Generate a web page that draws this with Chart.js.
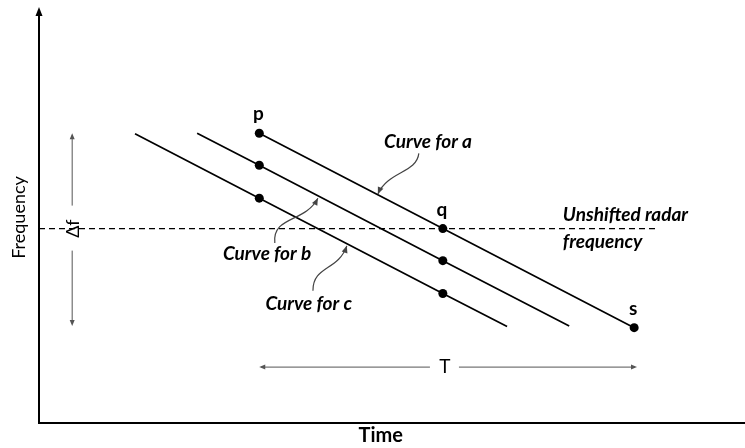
<!DOCTYPE html>
<html>
<head>
<meta charset="utf-8">
<script src="https://cdn.jsdelivr.net/npm/chart.js@4/dist/chart.umd.min.js"></script>
<style>
  body { margin: 0; background: #fff; }
  #wrap { width: 745px; height: 448px; }
</style>
</head>
<body>
<div id="wrap"><canvas id="chart" width="745" height="448"></canvas></div>
<script>
// Time / frequency values (arbitrary 0-100 units)
const timeA = [31.2, 57.2, 84.3];
const freqA = [70.5, 47.3, 23.2];
const timeB = [22.4, 31.2, 57.2, 75.1];
const freqB = [70.5, 62.7, 39.5, 23.6];
const timeC = [13.6, 31.2, 57.2, 66.3];
const freqC = [70.4, 54.7, 31.5, 23.5];
const dotsB = [false, true, true, false];
const dotsC = [false, true, true, false];
const pointNames = ["p", "q", "s"];
const radarFreq = 47.3;
const radarTime = [0, 87.7];

const toPoints = (xs, ys) => xs.map((x, i) => ({ x: x, y: ys[i] }));

// Label text, and the connectors from each label to its curve (data units)
const curveNotes = [
    { text: "Curve for a", at: [55.1, 68.3], path: [[53.8, 65.6], [53.5, 60.8], [49.4, 61.3], [48.0, 55.7]] },
    { text: "Curve for b", at: [32.3, 41.2], path: [[33.4, 43.8], [33.0, 50.4], [37.7, 48.7], [39.5, 54.7]] },
    { text: "Curve for c", at: [38.2, 29.1], path: [[38.8, 32.2], [38.8, 38.3], [42.4, 37.0], [43.6, 43.1]] }
];

const FONT = "Lato, 'Open Sans', sans-serif";

const arrowHead = (ctx, x, y, angle, len, half) => {
    ctx.save();
    ctx.translate(x, y);
    ctx.rotate(angle);
    ctx.beginPath();
    ctx.moveTo(0, 0);
    ctx.lineTo(-len, -half);
    ctx.lineTo(-len, half);
    ctx.closePath();
    ctx.fill();
    ctx.restore();
};

const annotations = {
    id: "annotations",
    afterDraw(chart) {
        const ctx = chart.ctx;
        const xs = chart.scales.x;
        const ys = chart.scales.y;
        const X = (v) => xs.getPixelForValue(v);
        const Y = (v) => ys.getPixelForValue(v);
        const area = chart.chartArea;

        ctx.save();
        ctx.fillStyle = "#000";
        ctx.strokeStyle = "#000";

        // arrow on top of frequency axis
        arrowHead(ctx, area.left, area.top - 5, -Math.PI / 2, 9, 3.5);

        // point names p, q, s
        ctx.font = "bold 19px " + FONT;
        ctx.textAlign = "center";
        ctx.textBaseline = "alphabetic";
        pointNames.forEach((name, i) => {
            ctx.fillText(name, X(timeA[i]) - 1, Y(freqA[i]) - 13);
        });

        // curve labels and wavy connectors
        ctx.font = "italic bold 19px " + FONT;
        ctx.textBaseline = "middle";
        curveNotes.forEach((n) => {
            ctx.fillText(n.text, X(n.at[0]), Y(n.at[1]));
            const p = n.path.map((q) => [X(q[0]), Y(q[1])]);
            ctx.strokeStyle = "#444";
            ctx.fillStyle = "#444";
            ctx.lineWidth = 1.2;
            ctx.beginPath();
            ctx.moveTo(p[0][0], p[0][1]);
            ctx.bezierCurveTo(p[1][0], p[1][1], p[2][0], p[2][1], p[3][0], p[3][1]);
            ctx.stroke();
            const ang = Math.atan2(p[3][1] - p[2][1], p[3][0] - p[2][0]);
            arrowHead(ctx, p[3][0], p[3][1], ang, 7, 3);
            ctx.fillStyle = "#000";
        });

        // unshifted radar frequency note
        ctx.textAlign = "left";
        ctx.textBaseline = "alphabetic";
        ctx.fillText("Unshifted radar", X(74.2), Y(49.2));
        ctx.fillText("frequency", X(74.2), Y(42.6));

        // delta f span
        ctx.strokeStyle = "#555";
        ctx.fillStyle = "#555";
        ctx.lineWidth = 1;
        const dfX = X(4.7);
        const dfTop = Y(freqA[0]);
        const dfBot = Y(freqB[3]);
        const dfMid = Y(radarFreq);
        ctx.beginPath();
        ctx.moveTo(dfX, dfTop + 2);
        ctx.lineTo(dfX, dfMid - 23);
        ctx.moveTo(dfX, dfMid + 22);
        ctx.lineTo(dfX, dfBot - 2);
        ctx.stroke();
        arrowHead(ctx, dfX, dfTop, -Math.PI / 2, 6, 2.5);
        arrowHead(ctx, dfX, dfBot, Math.PI / 2, 6, 2.5);
        ctx.save();
        ctx.translate(dfX + 1, dfMid);
        ctx.rotate(-Math.PI / 2);
        ctx.fillStyle = "#000";
        ctx.font = "18px " + FONT;
        ctx.textAlign = "center";
        ctx.textBaseline = "middle";
        ctx.fillText("\u0394f", 0, 0);
        ctx.restore();

        // T span
        const tY = Y(13.6);
        const tL = X(timeA[0]);
        const tR = X(84.7);
        const tMid = X(57.5);
        ctx.beginPath();
        ctx.moveTo(tL + 2, tY);
        ctx.lineTo(tMid - 15, tY);
        ctx.moveTo(tMid + 14, tY);
        ctx.lineTo(tR - 2, tY);
        ctx.stroke();
        arrowHead(ctx, tL, tY, Math.PI, 6, 2.5);
        arrowHead(ctx, tR, tY, 0, 6, 2.5);
        ctx.fillStyle = "#000";
        ctx.font = "19px " + FONT;
        ctx.textAlign = "center";
        ctx.textBaseline = "middle";
        ctx.fillText("T", tMid, tY);

        // time axis name
        ctx.font = "bold 20px " + FONT;
        ctx.fillText("Time", X(48.4), area.bottom + 13);

        ctx.restore();
    }
};

const lineStyle = {
    showLine: true,
    borderColor: "#000",
    backgroundColor: "#000",
    borderWidth: 1.7,
    pointBorderWidth: 0,
    pointHoverRadius: 0
};

new Chart(document.getElementById("chart"), {
    type: "scatter",
    data: {
        datasets: [
            Object.assign({ label: "Curve for a", data: toPoints(timeA, freqA), pointRadius: 4.5 }, lineStyle),
            Object.assign({ label: "Curve for b", data: toPoints(timeB, freqB), pointRadius: dotsB.map((d) => d ? 4.5 : 0) }, lineStyle),
            Object.assign({ label: "Curve for c", data: toPoints(timeC, freqC), pointRadius: dotsC.map((d) => d ? 4.5 : 0) }, lineStyle),
            {
                label: "Unshifted radar frequency",
                data: radarTime.map((t) => ({ x: t, y: radarFreq })),
                showLine: true,
                borderColor: "#000",
                borderWidth: 1.4,
                borderDash: [6, 4],
                pointRadius: 0
            }
        ]
    },
    options: {
        responsive: false,
        animation: false,
        layout: { autoPadding: false, padding: { top: 12, right: 0, left: 0, bottom: 0 } },
        plugins: {
            legend: { display: false },
            tooltip: { enabled: false }
        },
        scales: {
            x: {
                type: "linear",
                min: 0,
                max: 100,
                grid: { display: false },
                ticks: { display: false },
                border: { display: true, color: "#000", width: 2 },
                afterFit: (scale) => { scale.height = 25; }
            },
            y: {
                type: "linear",
                min: 0,
                max: 100,
                grid: { display: false },
                ticks: { display: false },
                border: { display: true, color: "#000", width: 2 },
                title: {
                    display: true,
                    text: "Frequency",
                    color: "#000",
                    font: { family: FONT, size: 18 },
                    padding: { top: 8, bottom: 0 }
                },
                afterFit: (scale) => { scale.width = 39; }
            }
        }
    },
    plugins: [annotations]
});
</script>
</body>
</html>
